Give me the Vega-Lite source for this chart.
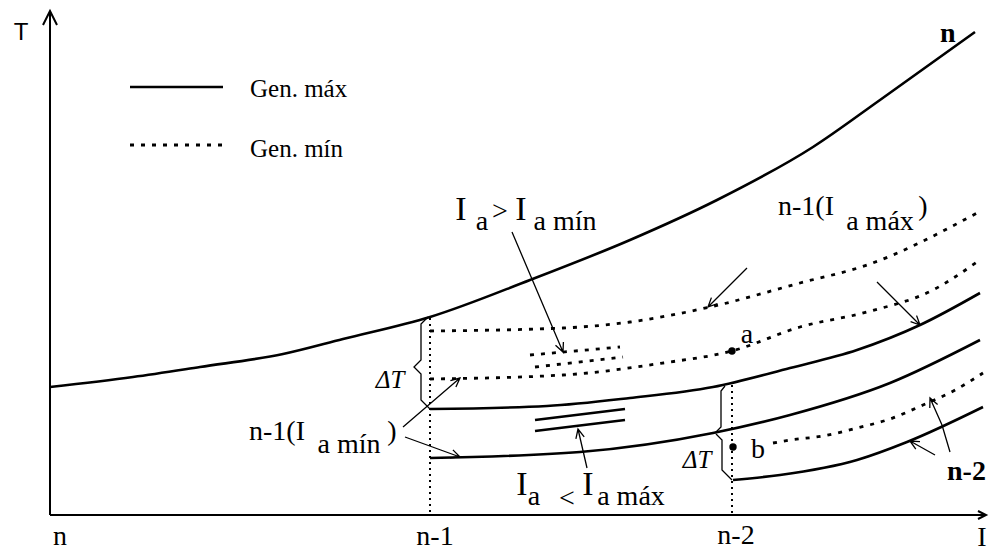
{
  "$schema": "https://vega.github.io/schema/vega-lite/v6.json",
  "width": 990,
  "height": 553,
  "padding": 0,
  "autosize": {"type": "none"},
  "background": "white",
  "config": {"view": {"stroke": null}},
  "datasets": {
    "solid": [
      {"id": "A", "x": 50, "T": 166}, {"id": "A", "x": 133, "T": 176}, {"id": "A", "x": 200, "T": 186}, {"id": "A", "x": 283, "T": 199}, {"id": "A", "x": 343, "T": 214}, {"id": "A", "x": 430, "T": 236}, {"id": "A", "x": 530, "T": 273}, {"id": "A", "x": 630, "T": 313}, {"id": "A", "x": 717, "T": 353}, {"id": "A", "x": 813, "T": 406}, {"id": "A", "x": 880, "T": 453}, {"id": "A", "x": 975, "T": 521},
      {"id": "D", "x": 430, "T": 144}, {"id": "D", "x": 547, "T": 147}, {"id": "D", "x": 630, "T": 155}, {"id": "D", "x": 713, "T": 166}, {"id": "D", "x": 790, "T": 185}, {"id": "D", "x": 857, "T": 203}, {"id": "D", "x": 920, "T": 228}, {"id": "D", "x": 980, "T": 260},
      {"id": "E", "x": 430, "T": 95}, {"id": "E", "x": 580, "T": 101}, {"id": "E", "x": 713, "T": 120}, {"id": "E", "x": 790, "T": 138}, {"id": "E", "x": 890, "T": 170}, {"id": "E", "x": 980, "T": 213},
      {"id": "G", "x": 733, "T": 73}, {"id": "G", "x": 780, "T": 78}, {"id": "G", "x": 857, "T": 93}, {"id": "G", "x": 907, "T": 111}, {"id": "G", "x": 983, "T": 146},
      {"id": "S3", "x": 535, "T": 133}, {"id": "S3", "x": 625, "T": 144},
      {"id": "S4", "x": 535, "T": 122}, {"id": "S4", "x": 625, "T": 133},
      {"id": "L1", "x": 130, "T": 466}, {"id": "L1", "x": 223, "T": 466}
    ],
    "dotted": [
      {"id": "B", "x": 430, "T": 222}, {"id": "B", "x": 563, "T": 225}, {"id": "B", "x": 630, "T": 231}, {"id": "B", "x": 710, "T": 246}, {"id": "B", "x": 800, "T": 270}, {"id": "B", "x": 867, "T": 288}, {"id": "B", "x": 977, "T": 340},
      {"id": "C", "x": 430, "T": 174}, {"id": "C", "x": 563, "T": 178}, {"id": "C", "x": 663, "T": 190}, {"id": "C", "x": 732, "T": 202}, {"id": "C", "x": 800, "T": 226}, {"id": "C", "x": 867, "T": 241}, {"id": "C", "x": 933, "T": 263}, {"id": "C", "x": 977, "T": 291},
      {"id": "F", "x": 773, "T": 110}, {"id": "F", "x": 790, "T": 113}, {"id": "F", "x": 823, "T": 117}, {"id": "F", "x": 857, "T": 125}, {"id": "F", "x": 890, "T": 134}, {"id": "F", "x": 923, "T": 148}, {"id": "F", "x": 957, "T": 164}, {"id": "F", "x": 983, "T": 180},
      {"id": "S1", "x": 530, "T": 198}, {"id": "S1", "x": 620, "T": 206},
      {"id": "S2", "x": 535, "T": 186}, {"id": "S2", "x": 623, "T": 196},
      {"id": "L2", "x": 130, "T": 408}, {"id": "L2", "x": 223, "T": 408}
    ],
    "vdotted": [
      {"id": "V1", "x": 430, "T": 235}, {"id": "V1", "x": 430, "T": 38},
      {"id": "V2", "x": 732, "T": 168}, {"id": "V2", "x": 732, "T": 38}
    ],
    "axes": [
      {"id": "Y", "x": 50, "T": 38}, {"id": "Y", "x": 50, "T": 542},
      {"id": "X", "x": 50, "T": 38}, {"id": "X", "x": 986, "T": 38},
      {"id": "YA", "x": 43, "T": 528}, {"id": "YA", "x": 50, "T": 542}, {"id": "YA", "x": 57, "T": 528},
      {"id": "XA", "x": 978, "T": 42}, {"id": "XA", "x": 986, "T": 38}, {"id": "XA", "x": 978, "T": 34}
    ],
    "thin": [
      {"id": "A1", "x": 512, "T": 321}, {"id": "A1", "x": 563, "T": 201}, {"id": "A1", "x": 563.4, "T": 211}, {"id": "A1", "x": 563, "T": 201}, {"id": "A1", "x": 555.5, "T": 207.7},
      {"id": "A2", "x": 747, "T": 285}, {"id": "A2", "x": 708, "T": 246}, {"id": "A2", "x": 717.4, "T": 249.4}, {"id": "A2", "x": 708, "T": 246}, {"id": "A2", "x": 711.4, "T": 255.4},
      {"id": "A3", "x": 877, "T": 271}, {"id": "A3", "x": 920, "T": 228}, {"id": "A3", "x": 916.6, "T": 237.4}, {"id": "A3", "x": 920, "T": 228}, {"id": "A3", "x": 910.6, "T": 231.4},
      {"id": "A4", "x": 403, "T": 126}, {"id": "A4", "x": 460, "T": 175}, {"id": "A4", "x": 450.4, "T": 172.3}, {"id": "A4", "x": 460, "T": 175}, {"id": "A4", "x": 455.9, "T": 165.9},
      {"id": "A5", "x": 405, "T": 116}, {"id": "A5", "x": 460, "T": 96}, {"id": "A5", "x": 452.9, "T": 103.1}, {"id": "A5", "x": 460, "T": 96}, {"id": "A5", "x": 450, "T": 95.1},
      {"id": "A6", "x": 587, "T": 85}, {"id": "A6", "x": 578, "T": 124}, {"id": "A6", "x": 575.9, "T": 114.2}, {"id": "A6", "x": 578, "T": 124}, {"id": "A6", "x": 584.2, "T": 116.1},
      {"id": "A7", "x": 950, "T": 101}, {"id": "A7", "x": 942, "T": 128}, {"id": "A7", "x": 930, "T": 155}, {"id": "A7", "x": 929.8, "T": 145}, {"id": "A7", "x": 930, "T": 155}, {"id": "A7", "x": 937.6, "T": 148.4},
      {"id": "A8", "x": 935, "T": 98}, {"id": "A8", "x": 910, "T": 112}, {"id": "A8", "x": 915.8, "T": 103.9}, {"id": "A8", "x": 910, "T": 112}, {"id": "A8", "x": 920, "T": 111.3},
      {"id": "B1", "x": 428, "T": 236}, {"id": "B1", "x": 421, "T": 229}, {"id": "B1", "x": 421, "T": 193}, {"id": "B1", "x": 414, "T": 186}, {"id": "B1", "x": 421, "T": 179}, {"id": "B1", "x": 421, "T": 153}, {"id": "B1", "x": 430, "T": 144},
      {"id": "B2", "x": 725, "T": 167}, {"id": "B2", "x": 721, "T": 162}, {"id": "B2", "x": 721, "T": 126}, {"id": "B2", "x": 715, "T": 120},
      {"id": "B3", "x": 716, "T": 119}, {"id": "B3", "x": 722, "T": 113}, {"id": "B3", "x": 722, "T": 83}, {"id": "B3", "x": 732, "T": 73}
    ],
    "dots": [
      {"name": "a", "x": 732, "T": 202},
      {"name": "b", "x": 733, "T": 106}
    ],
    "labels": [
      {"x": 60, "T": 8, "label": "n"},
      {"x": 435, "T": 8, "label": "n-1"},
      {"x": 736, "T": 9, "label": "n-2"},
      {"x": 982, "T": 7, "label": "I"},
      {"x": 806, "T": 338, "label": "n-1(I"},
      {"x": 923, "T": 338, "label": ")"},
      {"x": 277, "T": 113, "label": "n-1(I"},
      {"x": 392, "T": 113, "label": ")"},
      {"x": 747, "T": 210, "label": "a"},
      {"x": 758, "T": 95, "label": "b"},
      {"x": 500, "T": 333, "label": ">"},
      {"x": 567, "T": 46, "label": "<"},
      {"x": 482, "T": 323, "label": "a"},
      {"x": 565, "T": 323, "label": "a mín"},
      {"x": 534, "T": 48, "label": "a"},
      {"x": 631, "T": 48, "label": "a máx"},
      {"x": 880, "T": 323, "label": "a máx"},
      {"x": 349, "T": 100, "label": "a mín"}
    ],
    "bigI": [
      {"x": 461, "T": 333, "label": "I"},
      {"x": 521, "T": 333, "label": "I"},
      {"x": 522, "T": 58, "label": "I"},
      {"x": 588, "T": 58, "label": "I"}
    ],
    "legend": [
      {"x": 250, "T": 456, "label": "Gen. máx"},
      {"x": 250, "T": 396, "label": "Gen. mín"}
    ],
    "delta": [
      {"x": 390, "T": 165, "label": "ΔT"},
      {"x": 697, "T": 85, "label": "ΔT"}
    ],
    "bold": [
      {"x": 940, "T": 511, "label": "n"},
      {"x": 947, "T": 73, "label": "n-2"}
    ],
    "axisT": [
      {"x": 21, "T": 513, "label": "T"}
    ]
  },
  "encoding": {
    "x": {"field": "x", "type": "quantitative", "scale": {"domain": [0, 990], "nice": false, "zero": false}, "axis": null},
    "y": {"field": "T", "type": "quantitative", "scale": {"domain": [0, 553], "nice": false, "zero": false}, "axis": null}
  },
  "layer": [
    {"data": {"name": "axes"}, "mark": {"type": "line", "color": "black", "strokeWidth": 2}, "encoding": {"detail": {"field": "id"}, "order": {"value": null}}},
    {"data": {"name": "vdotted"}, "mark": {"type": "line", "color": "black", "strokeWidth": 2, "strokeDash": [2, 4]}, "encoding": {"detail": {"field": "id"}, "order": {"value": null}}},
    {"data": {"name": "solid"}, "mark": {"type": "line", "color": "black", "strokeWidth": 2.6, "interpolate": "monotone"}, "encoding": {"detail": {"field": "id"}}},
    {"data": {"name": "dotted"}, "mark": {"type": "line", "color": "black", "strokeWidth": 2.8, "strokeDash": [4, 7], "interpolate": "monotone"}, "encoding": {"detail": {"field": "id"}}},
    {"data": {"name": "thin"}, "mark": {"type": "line", "color": "black", "strokeWidth": 1.3}, "encoding": {"detail": {"field": "id"}, "order": {"value": null}}},
    {"data": {"name": "dots"}, "mark": {"type": "point", "filled": true, "size": 55, "color": "black", "opacity": 1}},
    {"data": {"name": "labels"}, "mark": {"type": "text", "font": "Liberation Serif", "fontSize": 28, "baseline": "alphabetic", "align": "center", "color": "black"}, "encoding": {"text": {"field": "label"}}},
    {"data": {"name": "bigI"}, "mark": {"type": "text", "font": "Liberation Serif", "fontSize": 34, "baseline": "alphabetic", "align": "center", "color": "black"}, "encoding": {"text": {"field": "label"}}},
    {"data": {"name": "legend"}, "mark": {"type": "text", "font": "Liberation Serif", "fontSize": 25, "baseline": "alphabetic", "align": "left", "color": "black"}, "encoding": {"text": {"field": "label"}}},
    {"data": {"name": "delta"}, "mark": {"type": "text", "font": "Liberation Serif", "fontSize": 25, "fontStyle": "italic", "baseline": "alphabetic", "align": "center", "color": "black"}, "encoding": {"text": {"field": "label"}}},
    {"data": {"name": "bold"}, "mark": {"type": "text", "font": "Liberation Serif", "fontSize": 28, "fontWeight": "bold", "baseline": "alphabetic", "align": "left", "color": "black"}, "encoding": {"text": {"field": "label"}}},
    {"data": {"name": "axisT"}, "mark": {"type": "text", "font": "Liberation Sans", "fontSize": 24, "baseline": "alphabetic", "align": "center", "color": "black"}, "encoding": {"text": {"field": "label"}}}
  ]
}
